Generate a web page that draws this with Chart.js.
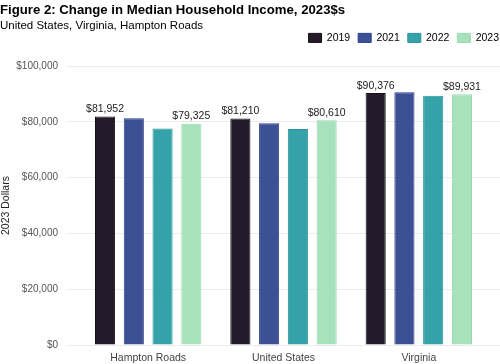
<!DOCTYPE html>
<html>
<head>
<meta charset="utf-8">
<script src="https://cdn.jsdelivr.net/npm/chart.js@4.4.1/dist/chart.umd.min.js"></script>
<style>
  body { margin: 0; background: #fff; }
  #wrap { width: 500px; height: 364px; }
</style>
</head>
<body>
<div id="wrap"><canvas id="incomeChart" width="500" height="364"></canvas></div>
<script>
"use strict";

// chart data
const categories = ['Hampton Roads', 'United States', 'Virginia'];
const years = ['2019', '2021', '2022', '2023'];
const income2019 = [81952, 81210, 90376];
const income2021 = [81300, 79500, 90600];
const income2022 = [77600, 77500, 89400];
const income2023 = [79325, 80610, 89931];
const labeledYears = ['2019', '2023'];
const yTicks = [0, 20000, 40000, 60000, 80000, 100000];

const fills = ['#251a2b', '#3c5195', '#35a2a9', '#a8e2bd'];
const borders = ['#111111', '#2b3f88', '#2a9299', '#9ad8b0'];
const allValues = [income2019, income2021, income2022, income2023];

const FONT = "'Liberation Sans', Arial, sans-serif";

function money(v) {
    return '$' + Number(v).toLocaleString('en-US');
}

// writes the value above the bars of the labelled years
const barLabels = {
    id: 'barLabels',
    afterDatasetsDraw(chart) {
        const ctx = chart.ctx;
        ctx.save();
        ctx.font = '10.5px ' + FONT;
        ctx.fillStyle = '#222222';
        ctx.textAlign = 'center';
        ctx.textBaseline = 'bottom';
        chart.data.datasets.forEach((ds, i) => {
            if (!labeledYears.includes(ds.label)) return;
            chart.getDatasetMeta(i).data.forEach((bar, j) => {
                ctx.fillText(money(ds.data[j].y), bar.x, bar.y - 2);
            });
        });
        ctx.restore();
    }
};

// pulls the legend up beside the subtitle and flush with the right edge
const legendNudge = {
    id: 'legendNudge',
    afterLayout(chart) {
        const lg = chart.legend;
        lg.left += 7; lg.right += 7;
        lg.top -= 13; lg.bottom -= 13;
    }
};

const datasets = years.map((year, i) => ({
    label: year,
    data: allValues[i].map((v, j) => ({ x: j + 1, y: v })),
    backgroundColor: fills[i],
    borderColor: borders[i],
    borderWidth: 1,
    categoryPercentage: 0.85,
    barPercentage: 0.7
}));

new Chart(document.getElementById('incomeChart'), {
    type: 'bar',
    data: { datasets: datasets },
    plugins: [barLabels, legendNudge],
    options: {
        responsive: false,
        animation: false,
        layout: { padding: 0 },
        plugins: {
            title: {
                display: true,
                text: 'Figure 2: Change in Median Household Income, 2023$s',
                align: 'start',
                color: '#000000',
                font: { family: FONT, size: 13.2, weight: 'bold' },
                padding: { top: 2, bottom: 1 }
            },
            subtitle: {
                display: true,
                text: 'United States, Virginia, Hampton Roads',
                align: 'start',
                color: '#000000',
                font: { family: FONT, size: 11.5 },
                padding: { top: 0, bottom: 5 }
            },
            legend: {
                position: 'top',
                align: 'end',
                labels: {
                    boxWidth: 13,
                    boxHeight: 9,
                    padding: 8,
                    color: '#000000',
                    font: { family: FONT, size: 10.5 }
                }
            },
            tooltip: { enabled: false }
        },
        scales: {
            x: {
                type: 'linear',
                min: 0.4,
                max: 3.6,
                offset: false,
                grid: { display: false, offset: false, drawTicks: false },
                border: { display: false },
                afterBuildTicks: scale => {
                    scale.ticks = categories.map((c, i) => ({ value: i + 1 }));
                },
                afterFit: scale => { scale.height = 19; },
                ticks: {
                    padding: 7,
                    color: '#444444',
                    font: { family: FONT, size: 10.5 },
                    callback: v => categories[v - 1]
                }
            },
            y: {
                min: 0,
                max: 100000,
                afterBuildTicks: scale => {
                    scale.ticks = yTicks.map(v => ({ value: v }));
                },
                afterFit: scale => { scale.width = 67; },
                grid: { color: '#ebebeb', lineWidth: 1, drawTicks: false },
                border: { display: false },
                title: {
                    display: true,
                    text: '2023 Dollars',
                    color: '#222222',
                    font: { family: FONT, size: 10.5 },
                    padding: { top: 0, bottom: 4 }
                },
                ticks: {
                    padding: 9,
                    color: '#555555',
                    font: { family: FONT, size: 10 },
                    callback: v => money(v)
                }
            }
        }
    }
});
</script>
</body>
</html>
